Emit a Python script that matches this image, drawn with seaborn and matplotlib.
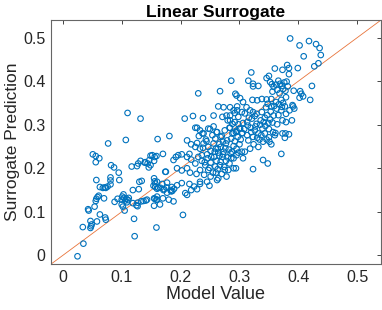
import numpy as np
import pandas as pd
import matplotlib
matplotlib.use("Agg")
import matplotlib.pyplot as plt
import seaborn as sns

# Values (model value vs surrogate prediction)
model_value = [
    # lower left
    0.025, 0.035, 0.034, 0.047, 0.048, 0.049, 0.047, 0.058, 0.063, 0.072, 0.073, 0.054,
    0.043, 0.044, 0.057, 0.059, 0.061, 0.056, 0.070, 0.057, 0.063, 0.068, 0.071, 0.073,
    0.076, 0.081, 0.081, 0.081, 0.082, 0.087, 0.051, 0.056, 0.062, 0.056, 0.077, 0.095,
    0.096, 0.088, 0.093, 0.100, 0.101, 0.103, 0.104, 0.106, 0.108, 0.111, 0.112, 0.109,
    0.100, 0.102, 0.105, 0.110, 0.107, 0.132, 0.117, 0.126, 0.128, 0.132, 0.119, 0.129,
    0.130, 0.134, 0.140, 0.144, 0.146, 0.149, 0.152, 0.159, 0.155, 0.161, 0.181, 0.170,
    0.188, 0.174, 0.155, 0.156, 0.157, 0.154, 0.157, 0.160, 0.162, 0.121, 0.122, 0.159,
    0.119, 0.127, 0.133, 0.137, 0.141, 0.143, 0.125, 0.127, 0.156, 0.159, 0.160, 0.166,
    0.172, 0.176, 0.183, 0.186, 0.189, 0.139, 0.147, 0.149, 0.156, 0.175, 0.192, 0.196,
    0.202, 0.215,
    # middle
    0.204, 0.230, 0.207, 0.221, 0.238, 0.256, 0.264, 0.273, 0.267, 0.286,
    0.228, 0.233, 0.237, 0.231, 0.250, 0.256, 0.261, 0.268, 0.275, 0.284, 0.290, 0.295,
    0.298, 0.301, 0.304, 0.288, 0.280, 0.284, 0.292, 0.296,
    0.211, 0.218, 0.225, 0.228, 0.233, 0.239, 0.243, 0.247, 0.251, 0.256, 0.260, 0.264,
    0.268, 0.273, 0.277, 0.282, 0.285, 0.290, 0.295, 0.300, 0.304,
    0.211, 0.218, 0.225, 0.230, 0.236, 0.242, 0.246, 0.251, 0.257, 0.261, 0.267, 0.271,
    0.277, 0.283, 0.290, 0.295, 0.306, 0.290, 0.294, 0.259,
    0.194, 0.202, 0.211, 0.216, 0.227, 0.233, 0.240, 0.247, 0.251, 0.260, 0.264, 0.270,
    0.275, 0.278, 0.233, 0.245, 0.262, 0.323,
    0.160, 0.169, 0.177, 0.185, 0.194, 0.202, 0.215, 0.223, 0.233, 0.208, 0.211, 0.218,
    0.228, 0.249, 0.171, 0.177, 0.184,
    0.155, 0.160, 0.170, 0.180, 0.188, 0.165, 0.155,
    0.284, 0.290, 0.304, 0.296, 0.271, 0.278, 0.284, 0.292,
    0.225, 0.239, 0.247, 0.262, 0.270, 0.283, 0.288, 0.294, 0.300, 0.305,
    # dense core
    0.245, 0.252, 0.258, 0.263, 0.266, 0.272, 0.276, 0.280, 0.287, 0.292, 0.297, 0.302,
    0.286, 0.279, 0.272, 0.266, 0.259, 0.254, 0.244, 0.238, 0.236, 0.241, 0.249, 0.255,
    0.263, 0.268, 0.274, 0.281, 0.286, 0.298,
    0.308, 0.314, 0.320, 0.327, 0.335, 0.341, 0.347, 0.353, 0.359, 0.362, 0.350, 0.344,
    0.337, 0.330, 0.356, 0.366, 0.372, 0.316, 0.326, 0.309,
    # upper right
    0.386, 0.418, 0.402, 0.430, 0.436, 0.438, 0.409, 0.434, 0.427, 0.381, 0.384, 0.399,
    0.373, 0.360, 0.384, 0.350, 0.346, 0.320, 0.315, 0.323, 0.323, 0.332, 0.423, 0.392,
    0.403, 0.405, 0.408, 0.402, 0.420, 0.390, 0.393, 0.389, 0.378, 0.373, 0.377, 0.384,
    0.371, 0.360, 0.340, 0.348, 0.293, 0.295, 0.301, 0.306,
    0.352, 0.355, 0.358, 0.362, 0.366, 0.369, 0.372, 0.376, 0.380, 0.374, 0.378, 0.364,
    0.356, 0.368, 0.382,
    0.312, 0.318, 0.322, 0.330, 0.338, 0.346, 0.354, 0.371, 0.379, 0.323, 0.329, 0.338,
    0.345, 0.348, 0.354, 0.363, 0.367, 0.371, 0.379, 0.385, 0.391, 0.377, 0.374,
    0.298, 0.306, 0.313, 0.321, 0.329, 0.336, 0.343, 0.349, 0.352, 0.358, 0.364, 0.373,
    0.379,
    0.313, 0.319, 0.326, 0.332, 0.339, 0.343, 0.350, 0.357, 0.361, 0.334, 0.346, 0.351,
    0.354, 0.318, 0.324, 0.332, 0.340, 0.309, 0.315, 0.323,
]

surrogate_pred = [
    # lower left
    -0.002, 0.027, 0.065, 0.063, 0.067, 0.071, 0.079, 0.078, 0.094, 0.087, 0.082, 0.112,
    0.106, 0.103, 0.130, 0.134, 0.137, 0.125, 0.131, 0.173, 0.157, 0.155, 0.156, 0.155,
    0.158, 0.163, 0.172, 0.179, 0.207, 0.202, 0.232, 0.228, 0.223, 0.214, 0.257, 0.190,
    0.173, 0.123, 0.130, 0.128, 0.135, 0.140, 0.132, 0.126, 0.130, 0.127, 0.132, 0.122,
    0.117, 0.112, 0.103, 0.327, 0.265, 0.314, 0.204, 0.205, 0.211, 0.217, 0.150, 0.152,
    0.169, 0.171, 0.214, 0.211, 0.202, 0.207, 0.230, 0.228, 0.217, 0.267, 0.274, 0.233,
    0.219, 0.192, 0.177, 0.170, 0.165, 0.160, 0.157, 0.153, 0.155, 0.084, 0.044, 0.064,
    0.120, 0.121, 0.124, 0.125, 0.126, 0.128, 0.115, 0.113, 0.130, 0.128, 0.135, 0.155,
    0.152, 0.156, 0.150, 0.148, 0.153, 0.213, 0.219, 0.229, 0.226, 0.192, 0.226, 0.230,
    0.232, 0.233,
    # middle
    0.093, 0.372, 0.314, 0.320, 0.315, 0.321, 0.342, 0.340, 0.377, 0.401,
    0.293, 0.287, 0.280, 0.274, 0.290, 0.296, 0.283, 0.272, 0.287, 0.293, 0.281, 0.286,
    0.301, 0.291, 0.280, 0.302, 0.310, 0.321, 0.327, 0.333,
    0.264, 0.255, 0.249, 0.258, 0.245, 0.257, 0.266, 0.249, 0.240, 0.257, 0.245, 0.236,
    0.249, 0.238, 0.257, 0.243, 0.234, 0.251, 0.245, 0.255, 0.238,
    0.226, 0.220, 0.211, 0.226, 0.217, 0.207, 0.223, 0.213, 0.226, 0.217, 0.207, 0.226,
    0.217, 0.211, 0.223, 0.230, 0.223, 0.200, 0.200, 0.204,
    0.200, 0.195, 0.200, 0.190, 0.187, 0.196, 0.185, 0.196, 0.181, 0.190, 0.177, 0.187,
    0.196, 0.181, 0.169, 0.169, 0.173, 0.198,
    0.169, 0.164, 0.167, 0.157, 0.161, 0.166, 0.164, 0.158, 0.164, 0.143, 0.139, 0.150,
    0.152, 0.160, 0.150, 0.144, 0.147,
    0.131, 0.128, 0.131, 0.128, 0.124, 0.117, 0.114,
    0.340, 0.333, 0.329, 0.342, 0.318, 0.321, 0.310, 0.306,
    0.293, 0.280, 0.291, 0.283, 0.274, 0.293, 0.280, 0.283, 0.291, 0.281,
    # dense core
    0.232, 0.226, 0.238, 0.245, 0.229, 0.232, 0.246, 0.225, 0.238, 0.262, 0.272, 0.266,
    0.268, 0.264, 0.261, 0.256, 0.268, 0.276, 0.262, 0.247, 0.230, 0.214, 0.201, 0.190,
    0.198, 0.215, 0.203, 0.196, 0.223, 0.236,
    0.290, 0.298, 0.283, 0.296, 0.300, 0.306, 0.322, 0.330, 0.343, 0.352, 0.290, 0.297,
    0.276, 0.270, 0.305, 0.322, 0.341, 0.316, 0.320, 0.326,
    # upper right
    0.498, 0.492, 0.482, 0.485, 0.476, 0.460, 0.457, 0.441, 0.434, 0.437, 0.430, 0.430,
    0.426, 0.429, 0.416, 0.412, 0.407, 0.420, 0.401, 0.394, 0.388, 0.389, 0.389, 0.378,
    0.377, 0.371, 0.365, 0.362, 0.357, 0.345, 0.337, 0.310, 0.280, 0.280, 0.270, 0.278,
    0.233, 0.276, 0.219, 0.211, 0.371, 0.367, 0.361, 0.352,
    0.398, 0.393, 0.387, 0.392, 0.401, 0.394, 0.389, 0.397, 0.399, 0.382, 0.378, 0.380,
    0.376, 0.372, 0.388,
    0.340, 0.333, 0.357, 0.356, 0.359, 0.358, 0.359, 0.357, 0.363, 0.329, 0.325, 0.329,
    0.340, 0.348, 0.342, 0.337, 0.347, 0.333, 0.325, 0.333, 0.342, 0.342, 0.350,
    0.318, 0.304, 0.306, 0.314, 0.302, 0.310, 0.316, 0.304, 0.312, 0.321, 0.301, 0.310,
    0.306,
    0.276, 0.293, 0.287, 0.280, 0.291, 0.280, 0.271, 0.283, 0.281, 0.266, 0.266, 0.261,
    0.255, 0.245, 0.255, 0.249, 0.261, 0.238, 0.264, 0.272,
]

axis_limits = [-0.02, 0.54]
tick_values = [0, 0.1, 0.2, 0.3, 0.4, 0.5]
tick_labels = ["0", "0.1", "0.2", "0.3", "0.4", "0.5"]

df = pd.DataFrame({"model": model_value, "surrogate": surrogate_pred})

sns.set_style("white")
plt.rcParams["font.family"] = ["Liberation Sans", "DejaVu Sans"]

fig = plt.figure(figsize=(3.82, 3.10), dpi=100)
ax = fig.add_axes([0.1335, 0.148, 0.8635, 0.787])

# 1:1 reference line, corner to corner
ax.plot(axis_limits, axis_limits, color="#E8743B", linewidth=0.6, zorder=1)

sns.scatterplot(data=df, x="model", y="surrogate", ax=ax, marker="o", s=16,
                facecolor="none", edgecolor="#0072BD", linewidth=0.8, zorder=2)

ax.set_xlim(axis_limits)
ax.set_ylim(axis_limits)
ax.set_xticks(tick_values)
ax.set_xticklabels(tick_labels)
ax.set_yticks(tick_values)
ax.set_yticklabels(tick_labels)
ax.tick_params(direction="in", length=3, width=0.6, colors="#262626",
               labelsize=11.5, top=True, right=True, pad=4)
for side in ax.spines.values():
    side.set_color("#666666")
    side.set_linewidth(0.8)

ax.set_xlabel("Model Value", fontsize=13, color="#262626", labelpad=1)
ax.set_ylabel("Surrogate Prediction", fontsize=12.5, color="#262626", labelpad=2)
ax.set_title("Linear Surrogate", fontsize=12.5, fontweight="bold", color="black", pad=2)

fig.savefig("out.png", dpi=100)
